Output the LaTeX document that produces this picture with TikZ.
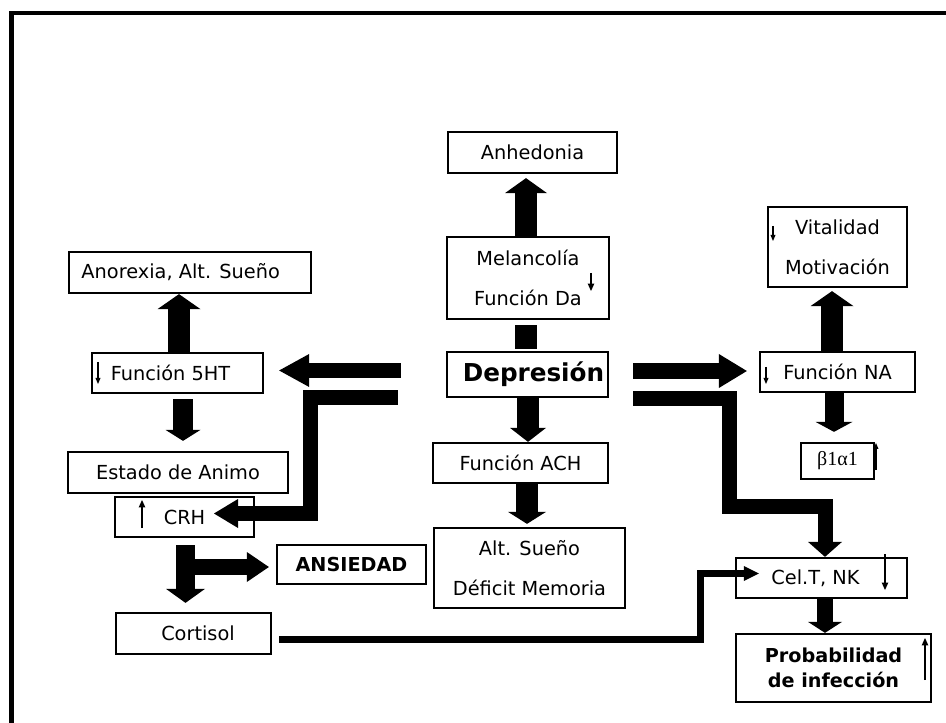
\documentclass[tikz,border=0pt]{standalone}
\usepackage{fontspec}
\setmainfont{DejaVu Sans}
\newfontfamily\grkfont{Liberation Serif}
\usetikzlibrary{arrows.meta,calc}
\newcommand\fnreg{\fontsize{14.5pt}{30pt}\selectfont}
\newcommand\fnbold{\fontsize{14.4pt}{18.75pt}\selectfont\bfseries}
\newcommand\fndep{\fontsize{18.5pt}{22pt}\selectfont\bfseries}
\tikzset{
  box/.style={draw, line width=1.7pt, fill=white, inner sep=0pt, font=\fnreg},
  sz/.style 2 args={minimum width=#1*0.75pt, minimum height=#2*0.75pt},
  sarr/.style={line width=0.8pt, -{Triangle[length=4.5pt,width=3.8pt,line width=0pt]}},
  marr/.style={line width=1.3pt, -{Triangle[length=5.5pt,width=5pt,line width=0pt]}},
}
\begin{document}
\begin{tikzpicture}[x=0.75pt,y=-0.75pt]
\useasboundingbox (0,0) rectangle (946,723);
% frame
\draw[line width=3.4pt] (11.5,740) -- (11.5,13) -- (960,13);

% boxes
\node[box,sz={169}{41}] (anh) at (532.5,152.5) {Anhedonia};
\node[box,sz={162}{82},align=center] (mel) at (528,278) {Melancolía\\Función Da};
\node[box,sz={161}{45},font=\fndep] (dep) at (527.5,374.5) {\kern9pt Depresión};
\node[box,sz={175}{40}] (ach) at (520.5,463) {Función ACH};
\node[box,sz={191}{80},align=center] (alt) at (529.5,568) {Alt. Sueño\\Déficit Memoria};
\node[box,sz={242}{41}] (ano) at (190,272.5) {Anorexia, Alt. Sueño\kern14pt};
\node[box,sz={171}{40}] (h5) at (177.5,373) {Función 5HT\kern10.5pt};
\node[box,sz={220}{41}] (est) at (178,472.5) {Estado de Animo};
\node[box,sz={139}{40}] (crh) at (184.5,517) {CRH};
\node[box,sz={149}{39},font=\fnbold] (ans) at (351.5,564.5) {ANSIEDAD};
\node[box,sz={155}{41}] (cor) at (193.5,633.5) {\kern6.75pt Cortisol};
\node[box,sz={139}{80},align=center] (vit) at (837.5,247) {Vitalidad\\Motivación};
\node[box,sz={155}{40}] (na) at (837.5,372) {Función NA};
\node[box,sz={73}{36},font={\grkfont\fontsize{15pt}{17pt}\selectfont}] (beta) at (837.5,461) {β1α1};
\node[box,sz={171}{40}] (cel) at (821.5,578) {Cel.T, NK\kern9pt};
\node[box,sz={195}{68},align=center,font=\fnbold] (pro) at (833.5,668) {Probabilidad\\de infección};

% block connectors
\draw[line width=16.5pt, shorten <=1.5pt, shorten >=3.75pt] (526,0 |- dep.north) -- (526,0 |- mel.south);
\draw[line width=16.5pt, shorten >=3pt, -{Triangle[length=11.25pt,width=31.5pt,line width=0pt]}] (526,0 |- mel.north) -- (526,0 |- anh.south);
\draw[line width=16.5pt, -{Triangle[length=10.5pt,width=27pt,line width=0pt]}] (528,0 |- dep.south) -- (528,0 |- ach.north);
\draw[line width=16.5pt, shorten >=2.25pt, -{Triangle[length=9pt,width=28.5pt,line width=0pt]}] (527,0 |- ach.south) -- (527,0 |- alt.north);
\draw[line width=16.5pt, -{Triangle[length=11.25pt,width=32.25pt,line width=0pt]}] (179,0 |- h5.north) -- (179,0 |- ano.south);
\draw[line width=15pt, shorten <=3.75pt, shorten >=7.5pt, -{Triangle[length=8.25pt,width=26.25pt,line width=0pt]}] (183,0 |- h5.south) -- (183,0 |- est.north);
\draw[line width=11.25pt, shorten <=33.75pt, shorten >=11.25pt, -{Triangle[length=22.5pt,width=24.75pt,line width=0pt]}] (dep.west |- 0,370.5) -- (h5.east |- 0,370.5);
\draw[line width=12pt, shorten <=18pt, shorten >=9pt, -{Triangle[length=21pt,width=25.5pt,line width=0pt]}] (dep.east |- 0,371) -- (na.west |- 0,371);
\draw[line width=16.5pt, shorten >=2.25pt, -{Triangle[length=11.25pt,width=32.25pt,line width=0pt]}] (832,0 |- na.north) -- (832,0 |- vit.south);
\draw[line width=14.25pt, shorten >=7.5pt, -{Triangle[length=7.5pt,width=27.75pt,line width=0pt]}] (834,0 |- na.south) -- (834,0 |- beta.north);
\draw[line width=11.25pt, shorten <=36pt, -{Triangle[length=18pt,width=21.75pt,line width=0pt]}] (dep.west |- 0,398) -- (310.5,398) -- (310.5,513.5) -- ($(crh.center)+(29.5,-3.5)$);
\draw[line width=11.25pt, shorten <=18pt, -{Triangle[length=11.25pt,width=25.5pt,line width=0pt]}] (dep.east |- 0,399) -- (729,399) -- (729,506) -- (825,506) -- (825,0 |- cel.north);
\draw[line width=12pt, -{Triangle[length=8.25pt,width=25.5pt,line width=0pt]}] (825,0 |- cel.south) -- (825,0 |- pro.north);
\draw[line width=14.25pt, shorten <=5.25pt, shorten >=6.75pt, -{Triangle[length=10.5pt,width=29.25pt,line width=0pt]}] (185.5,0 |- crh.south) -- (185.5,0 |- cor.north);
\coordinate (br) at (185.5,567);
\draw[line width=12pt, shorten >=5.25pt, -{Triangle[length=16.5pt,width=22.5pt,line width=0pt]}] (br) -- (ans.west |- br);
\draw[line width=5.25pt, shorten <=5.25pt, -{Triangle[length=11.25pt,width=11.25pt,line width=0pt]}] (cor.east |- 0,639.5) -- (700,639.5) -- (700,573.5) -- ($(cel.west)+(24,-4.5)$);

% small arrows inside labels
\draw[sarr] (98,362) -- (98,384);
\draw[sarr] (773,226) -- (773,241);
\draw[sarr] (766,367) -- (766,384);
\draw[marr] (591,273) -- (591,291);
\draw[marr] (142,528) -- (142,500);
\draw[sarr] (876,470) -- (876,443);
\draw[marr] (885,554) -- (885,590);
\draw[marr] (925,680) -- (925,638);
\end{tikzpicture}
\end{document}
